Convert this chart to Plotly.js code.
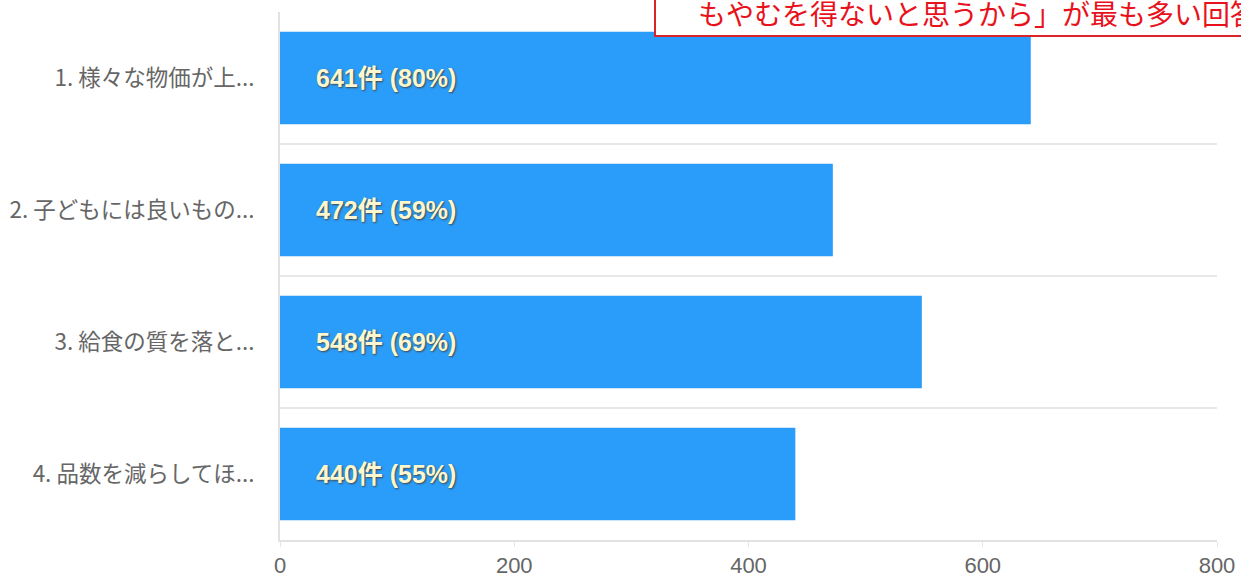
<!DOCTYPE html>
<html>
<head>
<meta charset="utf-8">
<script src="https://cdn.plot.ly/plotly-3.0.1.min.js"></script>
<style>html,body{margin:0;padding:0;background:#fff;}#chart{width:1241px;height:581px;}</style>
</head>
<body>
<div id="chart"></div>
<script>
const categories = ["1. 様々な物価が上...", "2. 子どもには良いもの...", "3. 給食の質を落と...", "4. 品数を減らしてほ..."];
const counts = [641, 472, 548, 440];
const percents = [80, 59, 69, 55];
const xTicks = [0, 200, 400, 600, 800];
const noteText = "もやむを得ないと思うから」が最も多い回答";

const labelFont = "'Noto Sans CJK JP', 'Liberation Sans', sans-serif";

const trace = {
  type: "bar",
  orientation: "h",
  y: categories,
  x: counts,
  marker: {color: "#2a9dfb"},
  width: 0.7,
  hoverinfo: "skip"
};

const annotations = categories.map((c, i) => ({
  x: 0, y: c, xref: "x", yref: "y",
  text: "<b>" + counts[i] + "件 (" + percents[i] + "%)</b>",
  showarrow: false, xanchor: "left", yanchor: "middle", xshift: 34,
  font: {family: "'Liberation Sans', 'Noto Sans CJK JP', sans-serif", size: 25, color: "#fdf7cf", shadow: "1px 1px 2px #444"}
}));

annotations.push({
  xref: "paper", yref: "paper",
  x: (696 - 280) / 937, y: (540 - 13) / 528,
  xanchor: "left", yanchor: "middle",
  text: noteText, showarrow: false,
  font: {family: labelFont, size: 28, color: "#e8121c"}
});

const layout = {
  width: 1241, height: 581,
  margin: {l: 280, r: 24, t: 12, b: 41, pad: 0},
  paper_bgcolor: "#fff", plot_bgcolor: "#fff",
  showlegend: false,
  xaxis: {
    range: [0, 800],
    tickvals: xTicks,
    ticktext: xTicks.map(String),
    showgrid: false,
    zeroline: false,
    showline: true, linecolor: "#e2e2e2", linewidth: 2,
    ticks: "outside", ticklen: 5, tickcolor: "#e6e6e6", tickwidth: 1,
    tickfont: {family: "'Liberation Sans Narrow', 'Liberation Sans', sans-serif", size: 22, color: "#666"}
  },
  yaxis: {
    type: "category",
    autorange: "reversed",
    tickson: "boundaries",
    showgrid: true, gridcolor: "#e8e8e8", gridwidth: 2,
    zeroline: false,
    showline: true, linecolor: "#e2e2e2", linewidth: 2,
    ticks: "", ticklabelstandoff: 19,
    tickfont: {family: labelFont, size: 22.5, color: "#666"}
  },
  annotations: annotations,
  shapes: [{
    type: "rect", xref: "paper", yref: "paper",
    x0: (655 - 280) / 937, x1: (1260 - 280) / 937,
    y0: (540 - 36) / 528, y1: (540 + 20) / 528,
    line: {color: "#d8242a", width: 2},
    fillcolor: "#ffffff", layer: "above"
  }]
};

Plotly.newPlot("chart", [trace], layout, {staticPlot: true, displayModeBar: false});
</script>
</body>
</html>
